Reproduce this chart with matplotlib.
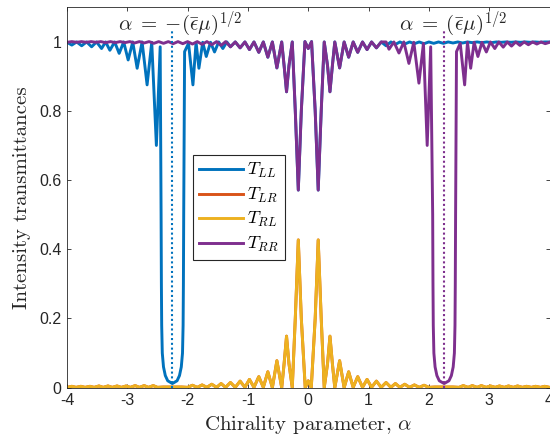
import matplotlib
matplotlib.use("Agg")
import matplotlib.pyplot as plt

plt.rcParams['mathtext.fontset'] = 'cm'
plt.rcParams['font.family'] = ['Liberation Sans', 'DejaVu Sans']

# ---- data -------------------------------------------------------------
# co-polarised central interference pattern (shared by T_LL and T_RR)
copol_center_x = [-1.21, -1.13, -1.05, -0.975, -0.90, -0.82, -0.745, -0.67, -0.595,
                  -0.52, -0.44, -0.40, -0.36, -0.32, -0.265, -0.215, -0.165, -0.115,
                  -0.055, 0.0, 0.055, 0.115, 0.165, 0.215, 0.265, 0.32, 0.36, 0.40,
                  0.44, 0.52, 0.595, 0.67, 0.745, 0.82, 0.90, 0.975, 1.05, 1.13, 1.21]
copol_center_y = [0.999, 0.982, 0.999, 0.977, 0.999, 0.969, 0.999, 0.955, 0.999,
                  0.924, 0.999, 0.93, 0.855, 0.93, 0.999, 0.80, 0.571, 0.80,
                  1.0, 0.98, 1.0, 0.80, 0.571, 0.80, 0.999, 0.93, 0.855, 0.93,
                  0.999, 0.924, 0.999, 0.955, 0.999, 0.969, 0.999, 0.977, 0.999, 0.982, 0.999]

# T_LL outside the central pattern
tll_left_x = [-4.00, -3.92, -3.84, -3.757, -3.675, -3.592, -3.51, -3.427, -3.36, -3.289,
              -3.21, -3.135, -3.06, -2.986, -2.91, -2.837, -2.755, -2.672, -2.595, -2.518,
              -2.455, -2.44, -2.435, -2.43, -2.42, -2.40, -2.37, -2.33, -2.253, -2.175,
              -2.135, -2.105, -2.085, -2.075, -2.07, -2.065, -2.05, -1.985, -1.912, -1.86,
              -1.813, -1.75, -1.691, -1.62, -1.554, -1.485, -1.416, -1.35, -1.29]
tll_left_y = [0.998, 0.990, 0.999, 0.988, 0.999, 0.985, 0.999, 0.980, 0.999, 0.975,
              0.999, 0.966, 0.999, 0.947, 0.999, 0.923, 0.999, 0.875, 0.998, 0.700,
              0.985, 0.50, 0.30, 0.18, 0.10, 0.06, 0.035, 0.02, 0.012, 0.02,
              0.035, 0.06, 0.10, 0.18, 0.30, 0.50, 0.971, 0.995, 0.875, 0.998,
              0.923, 0.998, 0.957, 0.998, 0.970, 0.999, 0.980, 0.999, 0.985]
tll_right_x = [1.29, 1.37, 1.445, 1.52, 1.60, 1.68, 1.76, 1.84, 1.92, 2.00, 2.08, 2.16,
               2.24, 2.32, 2.40, 2.48, 2.56, 2.64, 2.72, 2.80, 2.88, 2.96, 3.04, 3.12,
               3.20, 3.28, 3.36, 3.44, 3.52, 3.60, 3.68, 3.76, 3.84, 3.92, 4.00]
tll_right_y = [0.988, 0.999, 0.992, 0.999, 0.993, 0.999, 0.994, 0.999, 0.994, 0.999, 0.995, 0.999,
               0.995, 0.999, 0.996, 0.999, 0.996, 0.999, 0.997, 0.999, 0.997, 0.999, 0.997, 0.999,
               0.998, 0.999, 0.998, 0.999, 0.998, 0.999, 0.998, 0.999, 0.998, 0.999, 0.999]

# T_RR outside the central pattern
trr_left_x = [-4.00, -3.92, -3.84, -3.76, -3.68, -3.60, -3.52, -3.44, -3.36, -3.28,
              -3.20, -3.12, -3.04, -2.96, -2.88, -2.80, -2.72, -2.64, -2.56, -2.48,
              -2.40, -2.32, -2.24, -2.16, -2.08, -2.00, -1.92, -1.84, -1.76, -1.68,
              -1.60, -1.52, -1.445, -1.37, -1.29]
trr_left_y = [0.998, 1.0, 0.998, 1.0, 0.998, 1.0, 0.998, 1.0, 0.997, 1.0,
              0.997, 1.0, 0.997, 1.0, 0.996, 1.0, 0.996, 1.0, 0.995, 1.0,
              0.995, 1.0, 0.994, 1.0, 0.994, 1.0, 0.993, 1.0, 0.992, 1.0,
              0.991, 1.0, 0.989, 1.0, 0.985]
trr_right_x = [1.29, 1.339, 1.42, 1.504, 1.585, 1.669, 1.75, 1.835, 1.91, 1.972,
               2.03, 2.063, 2.068, 2.073, 2.083, 2.103, 2.133, 2.173, 2.253, 2.333,
               2.373, 2.403, 2.423, 2.433, 2.438, 2.443, 2.458, 2.52, 2.593, 2.64,
               2.693, 2.75, 2.813, 2.88, 2.953, 3.02, 3.093, 3.16, 3.233, 3.30,
               3.37, 3.44, 3.51, 3.58, 3.65, 3.72, 3.79, 3.86, 3.93, 4.00]
trr_right_y = [0.999, 0.978, 0.999, 0.967, 0.999, 0.937, 0.998, 0.880, 0.995, 0.700,
               0.985, 0.50, 0.30, 0.18, 0.10, 0.06, 0.035, 0.02, 0.012, 0.02,
               0.035, 0.06, 0.10, 0.18, 0.30, 0.50, 0.971, 0.995, 0.875, 0.998,
               0.923, 0.998, 0.957, 0.998, 0.970, 0.999, 0.980, 0.999, 0.984, 0.999,
               0.987, 0.999, 0.989, 0.999, 0.991, 0.999, 0.993, 0.999, 0.994, 0.998]

# cross-polarised transmittance (T_RL = T_LR)
cross_x = [-4.00, -3.92, -3.85, -3.77, -3.70, -3.62, -3.55, -3.47, -3.40, -3.32,
           -3.25, -3.17, -3.10, -3.02, -2.95, -2.87, -2.80, -2.72, -2.65, -2.57,
           -2.50, -2.40, -2.25, -2.10, -2.00, -1.92, -1.84, -1.76, -1.68, -1.60,
           -1.52, -1.445, -1.37, -1.29, -1.21, -1.13, -1.05, -0.975, -0.90, -0.82,
           -0.745, -0.67, -0.595, -0.52, -0.44, -0.40, -0.36, -0.32, -0.265, -0.215,
           -0.165, -0.115, -0.05, 0.0, 0.05, 0.115, 0.165, 0.215, 0.265, 0.32,
           0.36, 0.40, 0.44, 0.52, 0.595, 0.67, 0.745, 0.82, 0.90, 0.975,
           1.05, 1.13, 1.21, 1.29, 1.37, 1.445, 1.52, 1.60, 1.68, 1.76,
           1.84, 1.92, 2.00, 2.10, 2.25, 2.40, 2.50, 2.57, 2.65, 2.72,
           2.80, 2.87, 2.95, 3.02, 3.10, 3.17, 3.25, 3.32, 3.40, 3.47,
           3.55, 3.62, 3.70, 3.77, 3.85, 3.92, 4.00]
cross_y = [0.001, 0.004, 0.001, 0.004, 0.001, 0.004, 0.001, 0.005, 0.001, 0.005,
           0.001, 0.005, 0.001, 0.005, 0.001, 0.006, 0.001, 0.006, 0.001, 0.006,
           0.001, 0.002, 0.002, 0.002, 0.001, 0.007, 0.001, 0.008, 0.001, 0.010,
           0.001, 0.012, 0.001, 0.015, 0.001, 0.019, 0.001, 0.024, 0.001, 0.032,
           0.001, 0.046, 0.0, 0.078, 0.0, 0.07, 0.149, 0.07, 0.0, 0.20,
           0.427, 0.20, 0.0, 0.020, 0.0, 0.20, 0.427, 0.20, 0.0, 0.07,
           0.149, 0.07, 0.0, 0.078, 0.0, 0.046, 0.001, 0.032, 0.001, 0.024,
           0.001, 0.019, 0.001, 0.015, 0.001, 0.012, 0.001, 0.010, 0.001, 0.008,
           0.001, 0.007, 0.001, 0.002, 0.002, 0.002, 0.001, 0.006, 0.001, 0.006,
           0.001, 0.006, 0.001, 0.005, 0.001, 0.005, 0.001, 0.005, 0.001, 0.005,
           0.001, 0.004, 0.001, 0.004, 0.001, 0.004, 0.001]

alpha_gap = 2.253          # (eps_bar * mu)^(1/2)
series_labels = [r'$T_{LL}$', r'$T_{LR}$', r'$T_{RL}$', r'$T_{RR}$']
series_colors = ['#0072BD', '#D95319', '#EDB120', '#7E2F8E']
x_ticks = [-4, -3, -2, -1, 0, 1, 2, 3, 4]
y_ticks = [0, 0.2, 0.4, 0.6, 0.8, 1]
y_tick_labels = ['0', '0.2', '0.4', '0.6', '0.8', '1']

# ---- assemble curves ----------------------------------------------------
tll_x = tll_left_x + copol_center_x + tll_right_x
tll_y = tll_left_y + copol_center_y + tll_right_y
trr_x = trr_left_x + copol_center_x + trr_right_x
trr_y = trr_left_y + copol_center_y + trr_right_y

# ---- figure -------------------------------------------------------------
fig = plt.figure(figsize=(5.5, 4.41), dpi=100)
ax = fig.add_axes([67 / 550, 53.3 / 441, 482.5 / 550, 380.7 / 441])

lw = 2.1
ax.plot(tll_x, tll_y, color=series_colors[0], lw=lw, label=series_labels[0])
ax.plot(cross_x, cross_y, color=series_colors[1], lw=lw, label=series_labels[1])
ax.plot(cross_x, cross_y, color=series_colors[2], lw=lw, label=series_labels[2])
ax.plot(trr_x, trr_y, color=series_colors[3], lw=lw, label=series_labels[3])

ax.plot([-alpha_gap, -alpha_gap], [0, 1.03], ls=(0, (1, 1.3)), lw=1.5,
        color=series_colors[0])
ax.plot([alpha_gap, alpha_gap], [0, 1.03], ls=(0, (1, 1.3)), lw=1.5,
        color=series_colors[3])

ax.text(-2.12, 1.052, r'$\alpha\;=\;{-}(\bar{\epsilon}\mu)^{1/2}$', fontsize=15,
        ha='center', va='center', color='#262626')
ax.text(2.41, 1.052, r'$\alpha\;=\;(\bar{\epsilon}\mu)^{1/2}$', fontsize=15,
        ha='center', va='center', color='#262626')

ax.set_xlim(-4, 4)
ax.set_ylim(0, 1.1)
ax.set_xticks(x_ticks)
ax.set_xticklabels([str(t) for t in x_ticks])
ax.set_yticks(y_ticks)
ax.set_yticklabels(y_tick_labels)
ax.tick_params(direction='in', length=3.2, width=0.6, colors='#262626',
               labelsize=11.5, top=True, right=True, pad=3.8)
for s in ax.spines.values():
    s.set_color('#262626')
    s.set_linewidth(0.6)

ax.set_xlabel('Chirality parameter, $\\alpha$', fontfamily='cmr10', fontsize=15,
              color='#262626', labelpad=4)
ax.set_ylabel('Intensity transmittances', fontfamily='cmr10', fontsize=15,
              color='#262626', labelpad=6)

leg = ax.legend(loc='upper left', bbox_to_anchor=(0.2605, 0.611), fontsize=13,
                handlelength=2.45, handletextpad=0.2, labelspacing=0.3,
                borderpad=0.35, borderaxespad=0, fancybox=False, framealpha=1)
leg.get_frame().set_edgecolor('#262626')
leg.get_frame().set_linewidth(0.8)

fig.savefig('out.png', dpi=100)
